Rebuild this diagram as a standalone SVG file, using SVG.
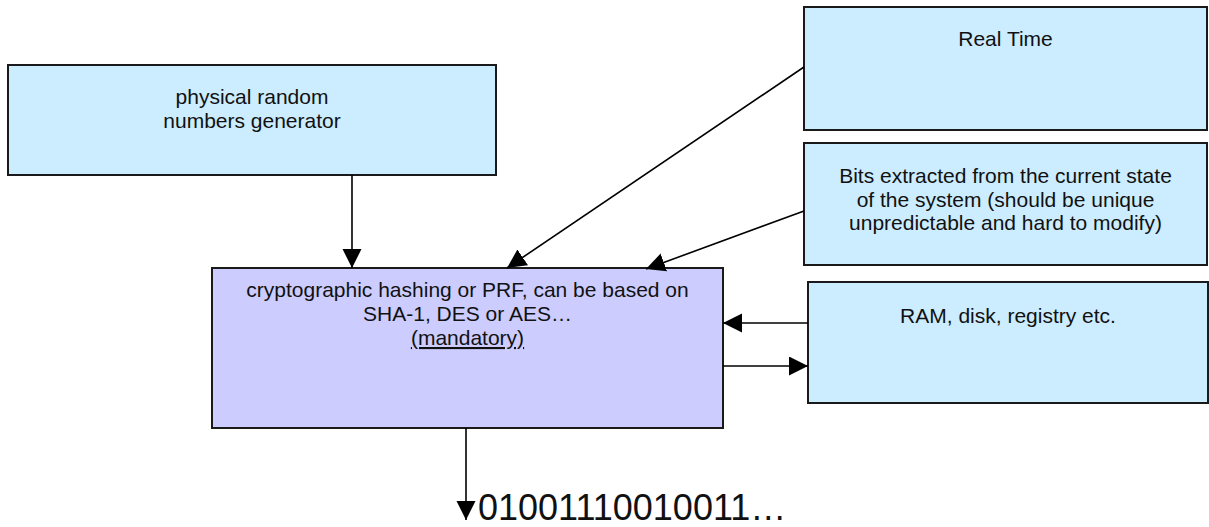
<svg xmlns="http://www.w3.org/2000/svg" width="1209" height="527" viewBox="0 0 1209 527">
<style>
.box{fill:#CCECFF;stroke:#1a1a1a;stroke-width:2}
.main{fill:#CCCCFF;stroke:#1a1a1a;stroke-width:2}
.t{font-family:"Liberation Sans",Arial,sans-serif;font-size:21px;fill:#111;text-anchor:middle}
.big{font-family:"Liberation Sans",Arial,sans-serif;font-size:36px;fill:#111}
.c{stroke:#000;stroke-width:1.6;fill:none;marker-end:url(#ah)}
</style>
<defs>
<marker id="ah" markerUnits="userSpaceOnUse" markerWidth="20" markerHeight="20" refX="19" refY="9.5" orient="auto">
<path d="M0,0 L19,9.5 L0,19 z" fill="#000"/>
</marker>
</defs>
<g id="n-physical">
<rect class="box" x="8" y="65" width="488" height="110"/>
<text class="t" x="252" y="104">physical random</text>
<text class="t" x="252" y="128">numbers generator</text>
</g>
<g id="n-realtime">
<rect class="box" x="804" y="7" width="403" height="123"/>
<text class="t" x="1005.5" y="46">Real Time</text>
</g>
<g id="n-bits">
<rect class="box" x="804" y="143" width="403" height="122"/>
<text class="t" x="1005.5" y="183">Bits extracted from the current state</text>
<text class="t" x="1005.5" y="207">of the system (should be unique</text>
<text class="t" x="1005.5" y="230">unpredictable and hard to modify)</text>
</g>
<g id="n-ram">
<rect class="box" x="808" y="282" width="400" height="121"/>
<text class="t" x="1008" y="323">RAM, disk, registry etc.</text>
</g>
<g id="n-hash">
<rect class="main" x="212" y="268" width="511" height="160"/>
<text class="t" x="467.5" y="297">cryptographic hashing or PRF, can be based on</text>
<text class="t" x="467.5" y="321">SHA-1, DES or AES…</text>
<text class="t" x="467.5" y="345" text-decoration="underline">(mandatory)</text>
</g>
<g id="n-output">
<text class="big" x="478" y="520">01001110010011…</text>
</g>
<g id="connectors">
<line class="c" x1="352" y1="175" x2="352" y2="268"/>
<line class="c" x1="804" y1="67" x2="507" y2="268"/>
<line class="c" x1="804" y1="211" x2="646" y2="269"/>
<line class="c" x1="808" y1="323" x2="723" y2="323"/>
<line class="c" x1="723" y1="366" x2="808" y2="366"/>
<line class="c" x1="466" y1="428" x2="466" y2="520"/>
</g>
</svg>
